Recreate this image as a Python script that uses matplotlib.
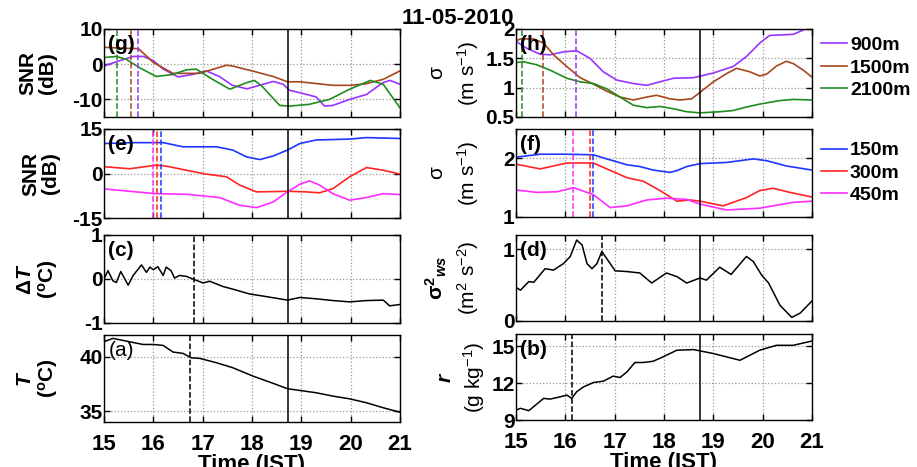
import matplotlib
matplotlib.use("Agg")
import matplotlib.pyplot as plt
from matplotlib.ticker import FormatStrFormatter

plt.rcParams['font.family'] = ['Liberation Sans', 'DejaVu Sans']
plt.rcParams['mathtext.fontset'] = 'custom'
plt.rcParams['mathtext.rm'] = 'Liberation Sans'
plt.rcParams['mathtext.it'] = 'Liberation Sans:bold:italic'
plt.rcParams['mathtext.bf'] = 'Liberation Sans:bold'

# ---- panel (g): SNR at upper levels (dB)
t_g900 = [15.0, 15.32, 15.59, 15.8, 16.0, 16.2, 16.5, 16.8, 17.07, 17.34, 17.6, 17.9, 18.15, 18.43,
          18.63, 18.76, 18.97, 19.3, 19.47, 19.64, 19.98, 20.32, 20.66, 20.8, 21.0]
snr_g900 = [-0.5, 1.0, 2.2, 2.2, 1.0, -1.4, -3.6, -2.9, -1.9, -3.5, -6.0, -7.0, -6.0, -4.9,
            -5.7, -7.4, -8.1, -9.3, -11.9, -11.7, -10.0, -8.6, -5.2, -4.6, -5.7]
t_g1500 = [15.0, 15.3, 15.7, 16.0, 16.4, 16.94, 17.48, 17.6, 18.0, 18.43, 18.72, 18.97, 19.64,
           19.98, 20.3, 20.66, 21.0]
snr_g1500 = [4.8, 4.6, 4.4, 0.5, -2.6, -2.6, -0.3, -0.5, -1.9, -3.5, -5.0, -5.0, -6.0,
             -6.0, -5.6, -4.3, -1.9]
t_g2100 = [15.0, 15.25, 15.45, 15.72, 16.06, 16.4, 16.67, 16.87, 17.2, 17.55, 17.9, 18.05, 18.2,
           18.56, 18.76, 19.16, 19.57, 19.98, 20.4, 20.66, 21.0]
snr_g2100 = [1.9, 2.2, 1.4, -1.0, -3.5, -2.9, -1.6, -1.4, -4.3, -7.1, -5.2, -4.6, -6.2,
             -11.7, -11.9, -11.4, -10.0, -7.1, -4.6, -5.7, -12.4]

# ---- panel (h): sigma at upper levels (m/s)
t_h900 = [15.0, 15.22, 15.49, 15.69, 15.96, 16.23, 16.5, 16.77, 17.04, 17.38, 17.65, 17.92, 18.19,
          18.6, 19.0, 19.4, 19.67, 19.94, 20.14, 20.41, 20.62, 20.82, 20.9]
sig_h900 = [1.79, 1.67, 1.57, 1.56, 1.61, 1.63, 1.5, 1.27, 1.13, 1.07, 1.04, 1.1, 1.16,
            1.17, 1.25, 1.36, 1.53, 1.76, 1.89, 1.9, 1.91, 1.98, 2.05]
t_h1500 = [15.0, 15.09, 15.36, 15.56, 15.76, 16.03, 16.3, 16.57, 16.84, 17.11, 17.38, 17.65, 17.85,
           18.12, 18.32, 18.56, 18.73, 19.0, 19.27, 19.47, 19.74, 19.94, 20.08, 20.28, 20.48,
           20.62, 20.82, 21.0]
sig_h1500 = [1.8, 1.83, 1.83, 1.76, 1.56, 1.36, 1.17, 1.06, 0.94, 0.84, 0.79, 0.84, 0.87,
             0.81, 0.79, 0.81, 0.92, 1.1, 1.24, 1.33, 1.27, 1.2, 1.23, 1.37, 1.45,
             1.41, 1.3, 1.18]
t_h2100 = [15.0, 15.16, 15.42, 15.69, 16.03, 16.3, 16.57, 16.84, 17.11, 17.38, 17.65, 17.92, 18.19,
           18.46, 18.73, 19.13, 19.4, 19.67, 19.94, 20.35, 20.62, 21.0]
sig_h2100 = [1.43, 1.44, 1.39, 1.3, 1.16, 1.1, 1.07, 0.98, 0.84, 0.7, 0.66, 0.68, 0.64,
             0.59, 0.57, 0.59, 0.61, 0.67, 0.72, 0.78, 0.8, 0.79]

# ---- panel (e): SNR at lower levels (dB)
t_e150 = [15.0, 15.59, 16.2, 16.6, 17.28, 17.61, 17.89, 18.16, 18.43, 18.72, 18.97, 19.3, 19.98,
          20.32, 21.0]
snr_e150 = [10.1, 10.4, 10.4, 9.0, 9.0, 7.9, 5.6, 4.7, 5.9, 7.9, 10.1, 11.3, 11.6, 12.1, 11.8]
t_e300 = [15.0, 15.52, 16.06, 16.26, 16.67, 17.07, 17.48, 17.75, 18.09, 18.72, 19.1, 19.37, 19.64,
          19.98, 20.32, 20.66, 21.0]
snr_e300 = [2.3, 1.6, 2.8, 2.5, 1.1, -0.2, -1.1, -3.9, -6.2, -6.0, -6.2, -6.5, -5.1,
            -1.1, 2.0, 1.1, -0.2]
t_e450 = [15.0, 15.52, 16.06, 16.67, 17.34, 17.75, 18.09, 18.43, 18.69, 18.97, 19.17, 19.37, 19.64,
          19.98, 20.32, 20.66, 21.0]
snr_e450 = [-5.2, -6.0, -6.8, -7.0, -8.1, -10.7, -11.5, -9.6, -6.5, -3.6, -2.5, -3.9, -6.8,
            -9.0, -8.1, -6.8, -7.1]

# ---- panel (f): sigma at lower levels (m/s)
t_f150 = [15.0, 15.49, 16.03, 16.57, 16.84, 17.25, 17.51, 17.78, 18.12, 18.26, 18.46, 18.73, 19.27,
          19.81, 20.08, 20.48, 21.0]
sig_f150 = [2.02, 2.07, 2.07, 2.06, 1.99, 1.89, 1.86, 1.8, 1.76, 1.79, 1.86, 1.91, 1.93,
            1.99, 1.96, 1.87, 1.8]
t_f300 = [15.0, 15.49, 16.03, 16.57, 16.84, 17.25, 17.58, 17.92, 18.26, 18.53, 18.73, 19.2, 19.67,
          19.94, 20.21, 20.55, 21.0]
sig_f300 = [1.9, 1.82, 1.92, 1.92, 1.82, 1.67, 1.61, 1.45, 1.27, 1.29, 1.27, 1.19, 1.33,
            1.45, 1.49, 1.42, 1.34]
t_f450 = [15.0, 15.42, 15.83, 16.17, 16.57, 16.91, 17.25, 17.65, 18.05, 18.46, 18.73, 19.27, 19.94,
          20.62, 21.0]
sig_f450 = [1.46, 1.42, 1.43, 1.5, 1.38, 1.16, 1.19, 1.29, 1.32, 1.3, 1.22, 1.12, 1.15, 1.25, 1.27]

# ---- panel (c): delta T (degC)
t_c = [15.0, 15.08, 15.18, 15.25, 15.34, 15.49, 15.59, 15.76, 15.86, 15.93, 16.0, 16.09, 16.2,
       16.26, 16.36, 16.43, 16.53, 16.67, 16.8, 17.01, 17.14, 17.41, 17.61, 17.95, 18.29, 18.72,
       18.97, 19.3, 19.64, 19.98, 20.32, 20.66, 20.79, 21.0]
dT_c = [0.0, 0.19, -0.04, -0.08, 0.17, -0.14, 0.08, 0.32, 0.15, 0.27, 0.21, 0.28, 0.08,
        0.27, 0.19, 0.02, 0.08, 0.06, 0.0, -0.09, -0.05, -0.17, -0.23, -0.34, -0.4, -0.48,
        -0.42, -0.45, -0.49, -0.52, -0.49, -0.48, -0.61, -0.58]

# ---- panel (d): sigma^2 ws (m2/s2)
t_d = [15.0, 15.09, 15.26, 15.36, 15.59, 15.76, 15.96, 16.1, 16.23, 16.34, 16.44, 16.54, 16.64,
       16.74, 16.84, 17.01, 17.25, 17.51, 17.75, 18.05, 18.26, 18.46, 18.73, 18.86, 19.13, 19.36,
       19.67, 19.81, 19.98, 20.12, 20.35, 20.59, 20.76, 21.0]
var_d = [0.47, 0.43, 0.55, 0.54, 0.73, 0.71, 0.8, 0.9, 1.13, 1.06, 0.8, 0.73, 0.8,
         0.97, 0.87, 0.7, 0.69, 0.67, 0.53, 0.67, 0.62, 0.53, 0.6, 0.57, 0.75, 0.65,
         0.9, 0.83, 0.64, 0.53, 0.22, 0.05, 0.11, 0.28]

# ---- panel (a): T (degC)
t_a = [15.0, 15.18, 15.45, 15.79, 16.0, 16.2, 16.4, 16.6, 16.77, 16.94, 17.28, 17.61, 18.02, 18.43,
       18.72, 18.97, 19.3, 19.64, 19.98, 20.32, 20.66, 21.0]
T_a = [41.38, 41.69, 41.44, 41.13, 41.13, 41.04, 40.43, 40.31, 39.9, 39.85, 39.45, 38.99, 38.22,
       37.55, 37.06, 36.9, 36.69, 36.38, 36.13, 35.77, 35.31, 34.9]

# ---- panel (b): r (g/kg)
t_b = [15.0, 15.09, 15.26, 15.56, 15.69, 15.9, 16.03, 16.13, 16.23, 16.37, 16.57, 16.77, 16.97,
       17.11, 17.25, 17.41, 17.58, 17.78, 17.98, 18.26, 18.6, 19.0, 19.54, 19.74, 19.94, 20.28,
       20.62, 21.0]
r_b = [9.8, 9.95, 9.76, 10.76, 10.7, 10.89, 11.03, 10.76, 11.3, 11.7, 12.05, 12.16, 12.57,
       12.46, 12.92, 13.68, 13.68, 13.78, 14.14, 14.68, 14.73, 14.41, 13.86, 14.27, 14.68, 15.08,
       15.08, 15.43]

t_solid = 18.73
dash_g = [15.26, 15.55, 15.68]   # 2100, 1500, 900
dash_h = [15.13, 15.54, 16.22]
dash_e = [16.0, 16.07, 16.16]    # 450, 300, 150
dash_f = [16.16, 16.49, 16.57]
dash_c, dash_d, dash_a, dash_b = 16.82, 16.74, 16.75, 16.14

c900, c1500, c2100 = '#9933ff', '#a8461c', '#1f8c1f'
c150, c300, c450 = '#1c36ff', '#ff2424', '#ff2cff'

W, H = 917, 467
fig = plt.figure(figsize=(W / 100, H / 100), dpi=100)


def make_ax(left, top, right, bottom):
    return fig.add_axes([left / W, 1 - bottom / H, (right - left) / W, (bottom - top) / H])


def style(ax, ylim, yticks, label, bottom=False, label_weight='bold'):
    ax.set_xlim(15, 21)
    ax.set_ylim(*ylim)
    ax.set_xticks(range(15, 22))
    ax.set_yticks(yticks)
    ax.yaxis.set_major_formatter(FormatStrFormatter('%g'))
    ax.tick_params(direction='in', top=True, right=True, length=4, width=1,
                   labelsize=15, pad=1)
    ax.tick_params(axis='x', pad=9)
    for lab in ax.get_yticklabels():
        lab.set_fontweight('bold')
    ax.grid(True, color='#999999', linestyle=':', linewidth=0.9)
    for s in ax.spines.values():
        s.set_linewidth(1.0)
    ax.axvline(t_solid, color='black', lw=1.1)
    ax.text(0.015, 0.93, label, transform=ax.transAxes, fontsize=15,
            fontweight=label_weight, va='top', ha='left')
    if bottom:
        ax.set_xticklabels([str(v) for v in range(15, 22)], fontsize=16, fontweight='bold')
        ax.set_xlabel('Time (IST)', fontsize=16, fontweight='bold', labelpad=-1)
    else:
        ax.set_xticklabels([])


def legend(ax, y):
    ax.legend(loc='center left', bbox_to_anchor=(1.0, y), frameon=False,
              prop={'size': 14, 'weight': 'bold'}, handlelength=1.35, handletextpad=0.15,
              labelspacing=0.25, borderaxespad=0.15, borderpad=0.3)


lx0, lx1 = 104, 400
rx0, rx1 = 516, 812

# ---- left column
ax_g = make_ax(lx0, 29, lx1, 117)
ax_g.plot(t_g900, snr_g900, color=c900, lw=1.2)
ax_g.plot(t_g1500, snr_g1500, color=c1500, lw=1.2)
ax_g.plot(t_g2100, snr_g2100, color=c2100, lw=1.2)
for x, c in zip(dash_g, [c2100, c1500, c900]):
    ax_g.axvline(x, color=c, ls='--', lw=1.1)
style(ax_g, (-15, 10), [-10, 0, 10], '(g)')
ax_g.set_ylabel('SNR\n(dB)', fontsize=15, fontweight='bold', labelpad=11, linespacing=1.05)

ax_e = make_ax(lx0, 129, lx1, 218)
ax_e.plot(t_e150, snr_e150, color=c150, lw=1.2)
ax_e.plot(t_e300, snr_e300, color=c300, lw=1.2)
ax_e.plot(t_e450, snr_e450, color=c450, lw=1.2)
for x, c in zip(dash_e, [c450, c300, c150]):
    ax_e.axvline(x, color=c, ls='--', lw=1.1)
style(ax_e, (-15, 15), [-15, 0, 15], '(e)')
ax_e.set_ylabel('SNR\n(dB)', fontsize=15, fontweight='bold', labelpad=9, linespacing=1.05)

ax_c = make_ax(lx0, 235, lx1, 323)
ax_c.plot(t_c, dT_c, color='black', lw=1.1)
ax_c.axvline(dash_c, color='black', ls='--', lw=1.1)
style(ax_c, (-1, 1), [-1, 0, 1], '(c)')
ax_c.set_ylabel('$\\mathbf{\\Delta}\\mathit{T}$\n($^{\\mathbf{o}}$C)', fontsize=15,
                fontweight='bold', labelpad=17, linespacing=1.05)

ax_a = make_ax(lx0, 335, lx1, 422)
ax_a.plot(t_a, T_a, color='black', lw=1.1)
ax_a.axvline(dash_a, color='black', ls='--', lw=1.1)
style(ax_a, (34, 42), [35, 40], '(a)', bottom=True, label_weight='normal')
ax_a.set_ylabel('$\\mathit{T}$\n($^{\\mathbf{o}}$C)', fontsize=15, fontweight='bold',
                labelpad=14, linespacing=1.05)

# ---- right column
ax_h = make_ax(rx0, 29, rx1, 117)
ax_h.plot(t_h900, sig_h900, color=c900, lw=1.2, label='900m')
ax_h.plot(t_h1500, sig_h1500, color=c1500, lw=1.2, label='1500m')
ax_h.plot(t_h2100, sig_h2100, color=c2100, lw=1.2, label='2100m')
for x, c in zip(dash_h, [c2100, c1500, c900]):
    ax_h.axvline(x, color=c, ls='--', lw=1.1)
style(ax_h, (0.5, 2), [0.5, 1, 1.5, 2], '(h)')
ax_h.set_ylabel('σ\n(m s$^{-1}$)', fontsize=15, labelpad=3, linespacing=1.45)
legend(ax_h, 0.56)

ax_f = make_ax(rx0, 129, rx1, 217)
ax_f.plot(t_f150, sig_f150, color=c150, lw=1.2, label='150m')
ax_f.plot(t_f300, sig_f300, color=c300, lw=1.2, label='300m')
ax_f.plot(t_f450, sig_f450, color=c450, lw=1.2, label='450m')
for x, c in zip(dash_f, [c450, c300, c150]):
    ax_f.axvline(x, color=c, ls='--', lw=1.1)
style(ax_f, (1, 2.5), [1, 2], '(f)')
ax_f.set_ylabel('σ\n(m s$^{-1}$)', fontsize=15, labelpad=16, linespacing=1.45)
legend(ax_f, 0.5)

ax_d = make_ax(rx0, 235, rx1, 321)
ax_d.plot(t_d, var_d, color='black', lw=1.1)
ax_d.axvline(dash_d, color='black', ls='--', lw=1.1)
style(ax_d, (0, 1.2), [0, 1], '(d)')
ax_d.set_ylabel('$\\mathbf{\\sigma^{2}}_{\\mathit{ws}}$\n(m$^2$ s$^{-2}$)', fontsize=15,
                labelpad=16, linespacing=1.3)

ax_b = make_ax(rx0, 334, rx1, 420)
ax_b.plot(t_b, r_b, color='black', lw=1.1)
ax_b.axvline(dash_b, color='black', ls='--', lw=1.1)
style(ax_b, (9, 16), [9, 12, 15], '(b)', bottom=True)
ax_b.set_ylabel('$\\mathit{r}$\n(g kg$^{-1}$)', fontsize=15, labelpad=3, linespacing=1.3)

fig.text(458 / W, 1 - 19 / H, '11-05-2010', fontsize=16, fontweight='bold',
         ha='center', va='center')

fig.savefig('out.png', dpi=100)
